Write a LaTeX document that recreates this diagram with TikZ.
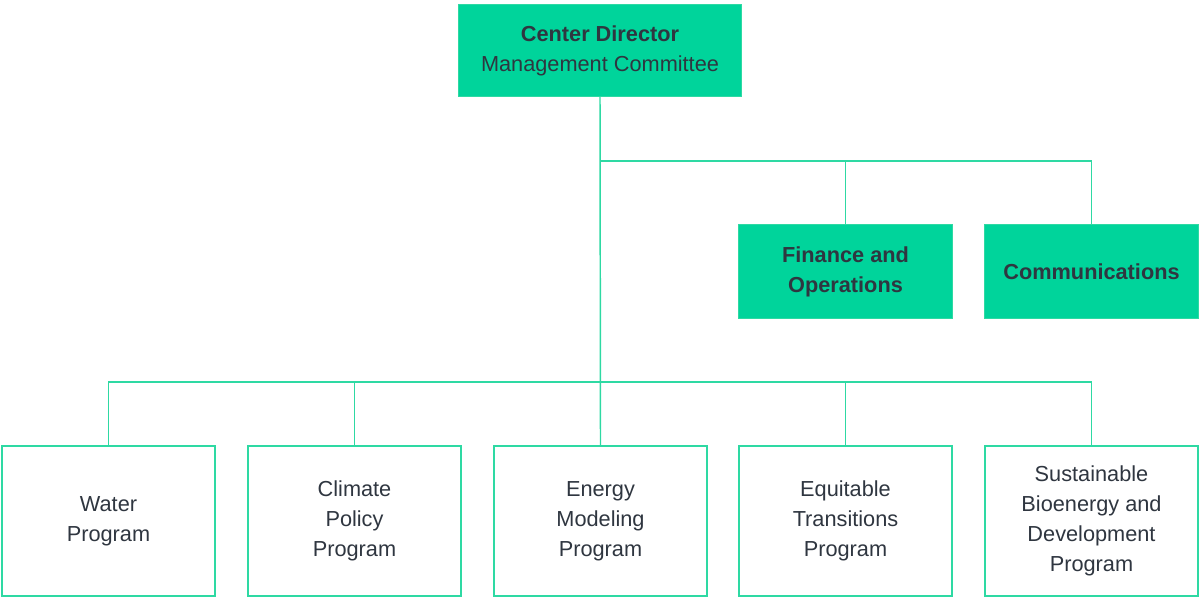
\documentclass[tikz,border=0pt]{standalone}
\usepackage{fontspec}
\setmainfont{Liberation Sans}
\usepackage{tikz}
\usetikzlibrary{positioning, calc}
\usepackage{xcolor}
\definecolor{Mint}{HTML}{00D49B}
\definecolor{MintLine}{HTML}{2ED9A3}
\definecolor{Ink}{HTML}{2F3640}

\tikzset{
  headbox/.style={fill=Mint, draw=MintLine, line width=0.8pt, align=center,
                  font=\fontsize{16.3}{22.5}\selectfont\color{Ink}},
  progbox/.style={draw=MintLine, line width=1.3pt, fill=white, align=center,
                  minimum width=160pt, minimum height=113pt,
                  font=\fontsize{16.3}{22.5}\selectfont\color{Ink}},
  link/.style={draw=MintLine, line width=1.1pt}
}

\begin{document}
\begin{tikzpicture}[x=0.75pt, y=-0.75pt]
  \useasboundingbox (0,0) rectangle (1200,605);

  % top
  \node[headbox, minimum width=212pt, minimum height=69pt] (director)
      at (600,50.5) {\textbf{Center Director}\\Management Committee};

  % staff
  \node[headbox, minimum width=160pt, minimum height=70pt] (finance)
      at (845.5,271.5) {\textbf{Finance and}\\\textbf{Operations}};
  \node[headbox, minimum width=160pt, minimum height=70pt] (comms)
      at (1091.5,271.5) {\textbf{Communications}};

  % programs
  \node[progbox] (water)     at (108.5,521)  {Water\\Program};
  \node[progbox] (climate)   at (354.5,521)  {Climate\\Policy\\Program};
  \node[progbox] (energy)    at (600.5,521)  {Energy\\Modeling\\Program};
  \node[progbox] (equitable) at (845.5,521)  {Equitable\\Transitions\\Program};
  \node[progbox] (bioenergy) at (1091.5,521) {Sustainable\\Bioenergy and\\Development\\Program};

  % connectors
  \coordinate (upbus)  at (600,161);
  \coordinate (lowbus) at (600,382);
  \begin{scope}[on background layer/.try]
    \draw[link] (director.south) -- (energy.north);
    \draw[link] (upbus) -| (finance.north);
    \draw[link] (upbus) -| (comms.north);
    \foreach \prog in {water, climate, equitable, bioenergy}
      \draw[link] (lowbus) -| (\prog.north);
  \end{scope}
\end{tikzpicture}
\end{document}
